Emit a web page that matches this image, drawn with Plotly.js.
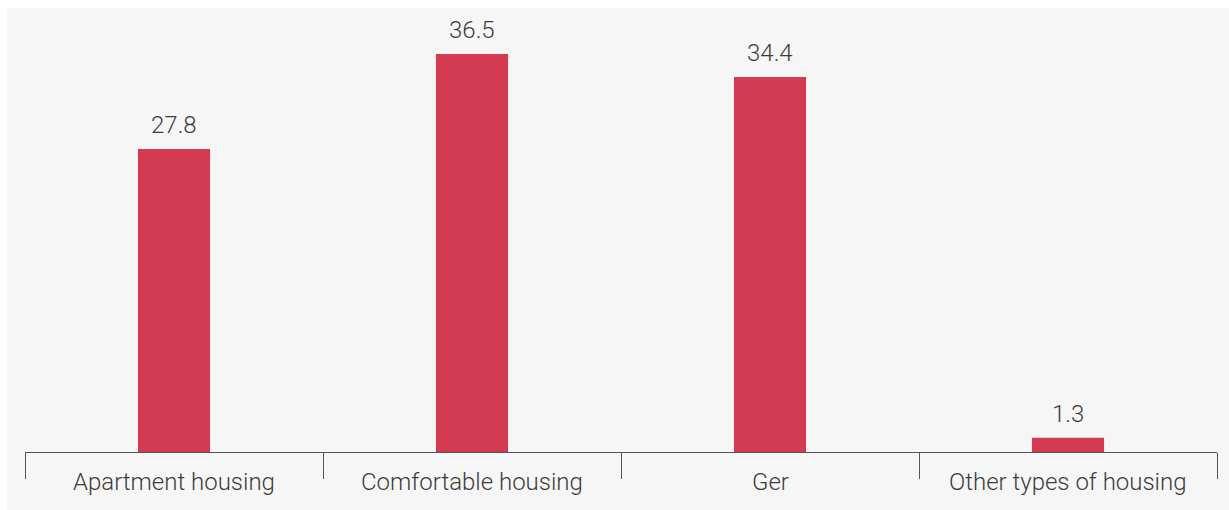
<!DOCTYPE html>
<html>
<head>
<meta charset="utf-8">
<script src="https://cdn.plot.ly/plotly-3.0.1.min.js"></script>
<style>
html,body{margin:0;padding:0;background:#ffffff;}
#chart{position:absolute;left:7px;top:8px;width:1222px;height:502px;}
</style>
</head>
<body>
<div id="chart"></div>
<script>
const categories = ["Apartment housing", "Comfortable housing", "Ger", "Other types of housing"];
const values = [27.8, 36.5, 34.4, 1.3];
const valueLabels = ["27.8", "36.5", "34.4", "1.3"];

const fontFamily = "Roboto, 'Open Sans', sans-serif";
const textColor = "#3d3d3d";

const annotations = [];
categories.forEach((c, i) => {
  annotations.push({
    x: c, y: values[i], xref: "x", yref: "y",
    text: valueLabels[i], showarrow: false,
    yanchor: "bottom", yshift: 8,
    font: {family: fontFamily, size: 24, color: textColor, weight: 300}
  });
  annotations.push({
    x: c, y: 0, xref: "x", yref: "y",
    text: c, showarrow: false,
    yanchor: "top", yshift: -14,
    font: {family: fontFamily, size: 24, color: textColor, weight: 300}
  });
});

const trace = {
  type: "bar",
  x: categories,
  y: values,
  marker: {color: "#d33b52"},
  width: 0.242,
  hoverinfo: "none"
};

const layout = {
  width: 1222, height: 502,
  margin: {l: 18, r: 12, t: 0, b: 58},
  paper_bgcolor: "#f6f6f6",
  plot_bgcolor: "#f6f6f6",
  showlegend: false,
  xaxis: {
    type: "category",
    showgrid: false,
    showline: true, linecolor: "#555555", linewidth: 1,
    ticks: "outside", tickson: "boundaries", ticklen: 26, tickcolor: "#555555", tickwidth: 1,
    showticklabels: false,
    zeroline: false
  },
  yaxis: {
    range: [0, 40.73],
    visible: false,
    showgrid: false, zeroline: false
  },
  annotations: annotations
};

Plotly.newPlot("chart", [trace], layout, {displayModeBar: false, staticPlot: true});
</script>
</body>
</html>
